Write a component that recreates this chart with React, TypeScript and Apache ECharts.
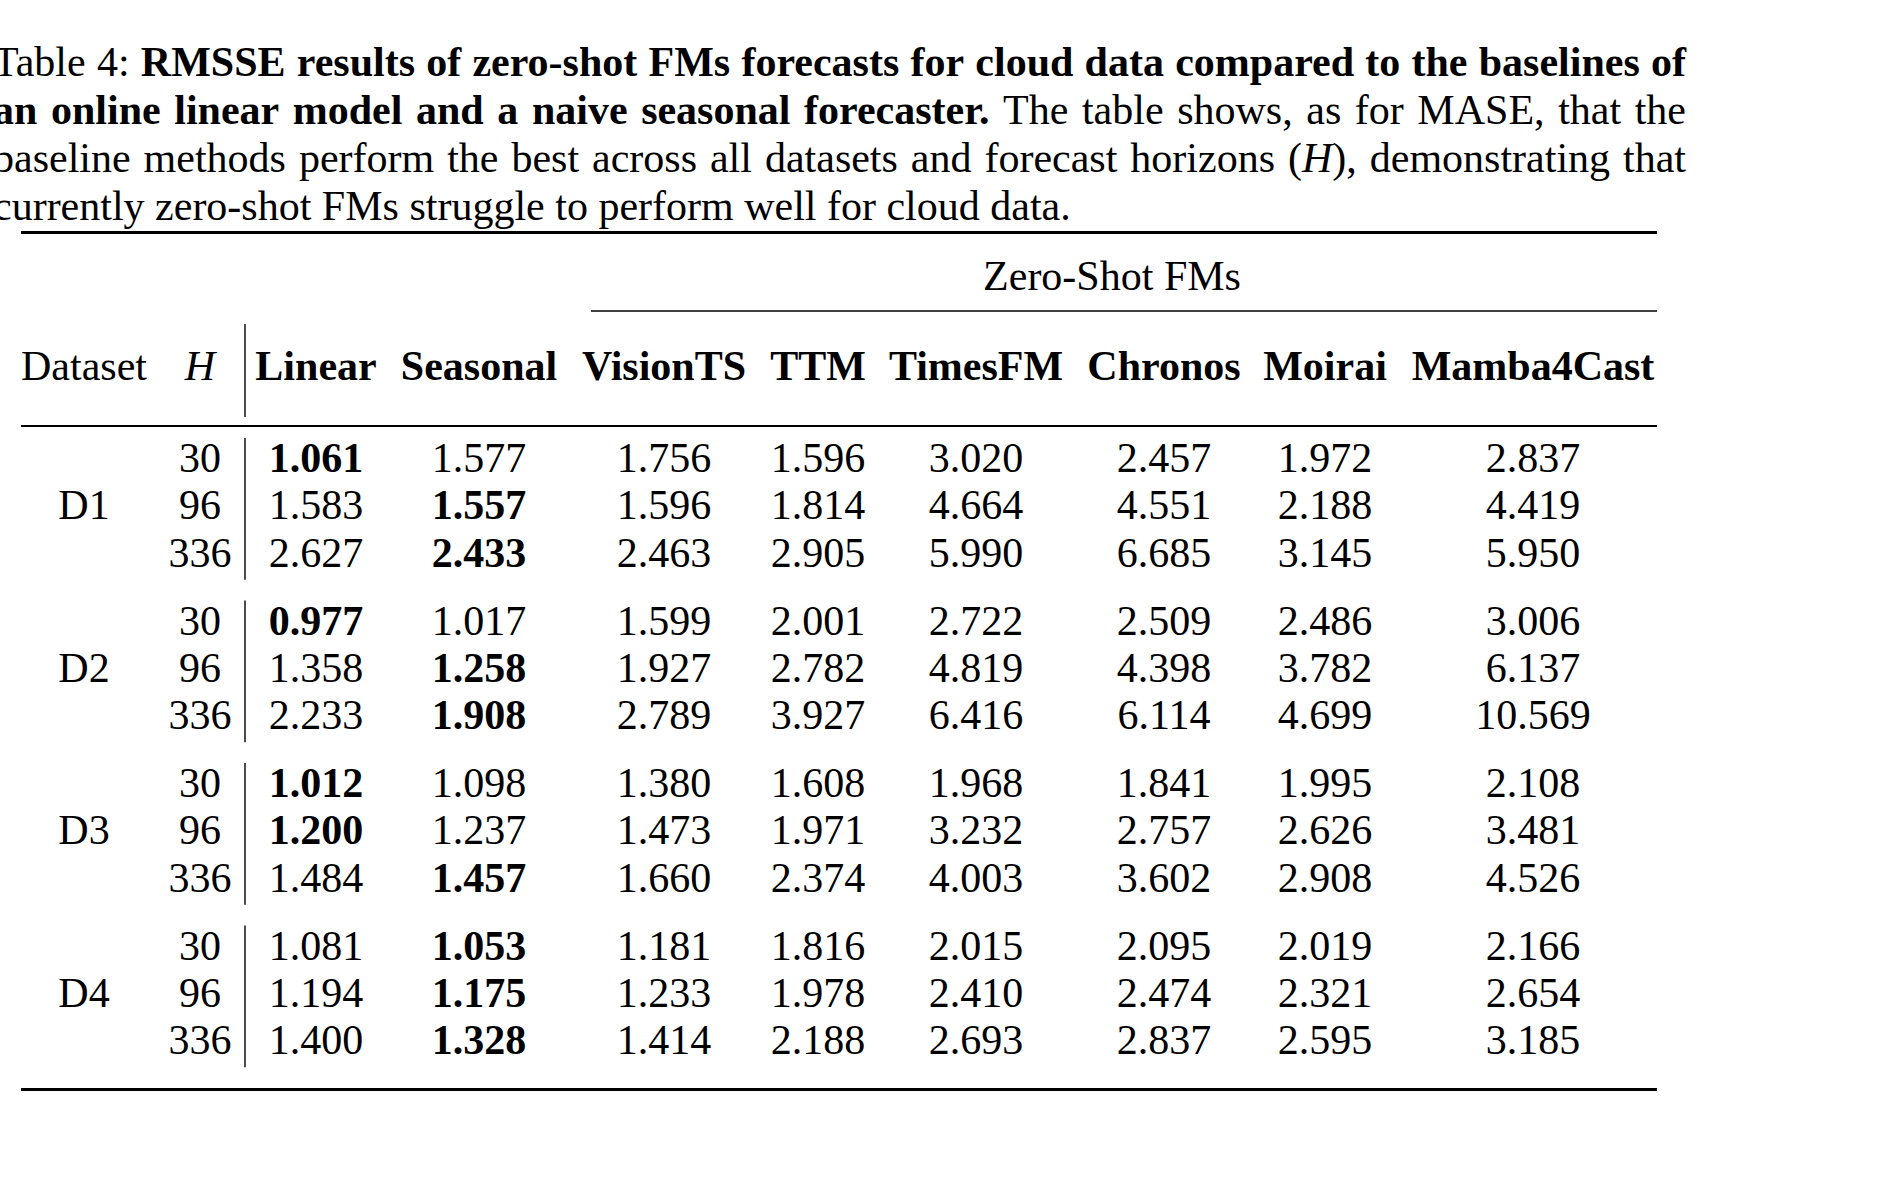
import React, { useEffect, useRef } from "react";
import * as echarts from "echarts";

// ---- data ----
const MODELS = ["Linear", "Seasonal", "VisionTS", "TTM", "TimesFM", "Chronos", "Moirai", "Mamba4Cast"];
const DATASETS = ["D1", "D2", "D3", "D4"];
const HORIZONS = ["30", "96", "336"];
const linear = [1.061, 1.583, 2.627, 0.977, 1.358, 2.233, 1.012, 1.2, 1.484, 1.081, 1.194, 1.4];
const seasonal = [1.577, 1.557, 2.433, 1.017, 1.258, 1.908, 1.098, 1.237, 1.457, 1.053, 1.175, 1.328];
const visionTS = [1.756, 1.596, 2.463, 1.599, 1.927, 2.789, 1.38, 1.473, 1.66, 1.181, 1.233, 1.414];
const ttm = [1.596, 1.814, 2.905, 2.001, 2.782, 3.927, 1.608, 1.971, 2.374, 1.816, 1.978, 2.188];
const timesFM = [3.02, 4.664, 5.99, 2.722, 4.819, 6.416, 1.968, 3.232, 4.003, 2.015, 2.41, 2.693];
const chronos = [2.457, 4.551, 6.685, 2.509, 4.398, 6.114, 1.841, 2.757, 3.602, 2.095, 2.474, 2.837];
const moirai = [1.972, 2.188, 3.145, 2.486, 3.782, 4.699, 1.995, 2.626, 2.908, 2.019, 2.321, 2.595];
const mamba4Cast = [2.837, 4.419, 5.95, 3.006, 6.137, 10.569, 2.108, 3.481, 4.526, 2.166, 2.654, 3.185];
const SERIES = [linear, seasonal, visionTS, ttm, timesFM, chronos, moirai, mamba4Cast];
const GROUP_LABEL = "Zero-Shot FMs";

type Piece = { t: string; w?: "bold" | "normal"; s?: "italic" | "normal" };
const CAPTION: { pieces: Piece[]; justify: boolean }[] = [
  {
    pieces: [
      { t: "Table 4: " },
      { t: "RMSSE results of zero-shot FMs forecasts for cloud data compared to the baselines of", w: "bold" },
    ],
    justify: true,
  },
  {
    pieces: [
      { t: "an online linear model and a naive seasonal forecaster.", w: "bold" },
      { t: " The table shows, as for MASE, that the" },
    ],
    justify: true,
  },
  {
    pieces: [
      { t: "baseline methods perform the best across all datasets and forecast horizons (" },
      { t: "H", s: "italic" },
      { t: "), demonstrating that" },
    ],
    justify: true,
  },
  {
    pieces: [{ t: "currently zero-shot FMs struggle to perform well for cloud data." }],
    justify: false,
  },
];

// ---- layout ----
const W = 1877;
const H = 1182;
const FONT = '"Liberation Serif", "Times New Roman", serif';
const FS = 42;
const TABLE_L = 21;
const TABLE_R = 1657;
const COL_X = [316, 479, 664, 818, 976, 1164, 1325, 1533];
const DATASET_X = 84;
const H_X = 200;
const VLINE_X = 245;
const CAP_L = -7;
const CAP_R = 1686;
const CAP_Y = [62, 110, 158, 206];
const HEADER_Y = 366;
const GROUP_Y0 = 458;
const GROUP_STEP = 162.5;
const ROW_STEP = 47.4;

function measure(ctx: CanvasRenderingContext2D, p: Piece) {
  ctx.font = `${p.s || "normal"} ${p.w || "normal"} ${FS}px ${FONT}`;
  return ctx.measureText(p.t).width;
}

function buildCaption(): any[] {
  const canvas = document.createElement("canvas");
  const ctx = canvas.getContext("2d")!;
  const out: any[] = [];
  CAPTION.forEach((line, li) => {
    const words: Piece[][] = [];
    let cur: Piece[] = [];
    line.pieces.forEach((p) => {
      const parts = p.t.split(" ");
      parts.forEach((part, i) => {
        if (i > 0) {
          if (cur.length) words.push(cur);
          cur = [];
        }
        if (part.length) cur.push({ t: part, w: p.w, s: p.s });
      });
    });
    if (cur.length) words.push(cur);
    const widths = words.map((wd) => wd.reduce((a, p) => a + measure(ctx, p), 0));
    const total = widths.reduce((a, b) => a + b, 0);
    const spaceNat = measure(ctx, { t: " " });
    const gap = line.justify ? (CAP_R - CAP_L - total) / (words.length - 1) : spaceNat;
    let x = CAP_L;
    words.forEach((wd, wi) => {
      let px = x;
      wd.forEach((p) => {
        out.push({
          type: "text",
          x: px,
          y: CAP_Y[li],
          silent: true,
          style: {
            text: p.t,
            fill: "#000",
            font: `${p.s || "normal"} ${p.w || "normal"} ${FS}px ${FONT}`,
            textAlign: "left",
            textVerticalAlign: "middle",
          },
        });
        px += measure(ctx, p);
      });
      x += widths[wi] + gap;
    });
  });
  return out;
}

function txt(t: string, x: number, y: number, opts: { bold?: boolean; italic?: boolean; align?: string } = {}) {
  return {
    type: "text",
    x,
    y,
    silent: true,
    style: {
      text: t,
      fill: "#000",
      font: `${opts.italic ? "italic" : "normal"} ${opts.bold ? "bold" : "normal"} ${FS}px ${FONT}`,
      textAlign: opts.align || "center",
      textVerticalAlign: "middle",
    },
  };
}

function hline(x1: number, x2: number, y: number, lw: number) {
  return { type: "line", silent: true, shape: { x1, y1: y, x2, y2: y }, style: { stroke: "#000", lineWidth: lw } };
}
function vline(x: number, y1: number, y2: number, lw: number) {
  return { type: "line", silent: true, shape: { x1: x, y1, x2: x, y2 }, style: { stroke: "#000", lineWidth: lw } };
}

function buildTable(): any[] {
  const els: any[] = [];
  els.push(hline(TABLE_L, TABLE_R, 232.5, 3));
  els.push(txt(GROUP_LABEL, 1112, 276));
  els.push(hline(591, TABLE_R, 311, 1.6));
  els.push(txt("Dataset", DATASET_X, HEADER_Y));
  els.push(txt("H", H_X, HEADER_Y, { italic: true }));
  MODELS.forEach((m, i) => els.push(txt(m, COL_X[i], HEADER_Y, { bold: true })));
  els.push(vline(VLINE_X, 324, 417, 1.4));
  els.push(hline(TABLE_L, TABLE_R, 426, 2));
  DATASETS.forEach((d, g) => {
    const y0 = GROUP_Y0 + g * GROUP_STEP;
    els.push(txt(d, DATASET_X, y0 + ROW_STEP));
    els.push(vline(VLINE_X, y0 - 20, y0 + 2 * ROW_STEP + 27, 1.4));
    HORIZONS.forEach((h, r) => {
      const idx = g * 3 + r;
      const y = y0 + r * ROW_STEP;
      els.push(txt(h, H_X, y));
      const rowVals = SERIES.map((s) => s[idx]);
      const minV = Math.min(...rowVals);
      SERIES.forEach((s, c) => {
        els.push(txt(s[idx].toFixed(3), COL_X[c], y, { bold: s[idx] === minV }));
      });
    });
  });
  els.push(hline(TABLE_L, TABLE_R, 1089.5, 3));
  return els;
}

export default function App() {
  const ref = useRef<HTMLDivElement>(null);
  useEffect(() => {
    document.body.style.margin = "0";
    document.body.style.background = "#fff";
    const chart = echarts.init(ref.current!, undefined, { renderer: "svg", width: W, height: H });
    chart.setOption({
      animation: false,
      backgroundColor: "#fff",
      graphic: { elements: [...buildCaption(), ...buildTable()] },
    });
    return () => chart.dispose();
  }, []);
  return <div ref={ref} style={{ position: "absolute", left: 0, top: 0, width: W, height: H }} />;
}
